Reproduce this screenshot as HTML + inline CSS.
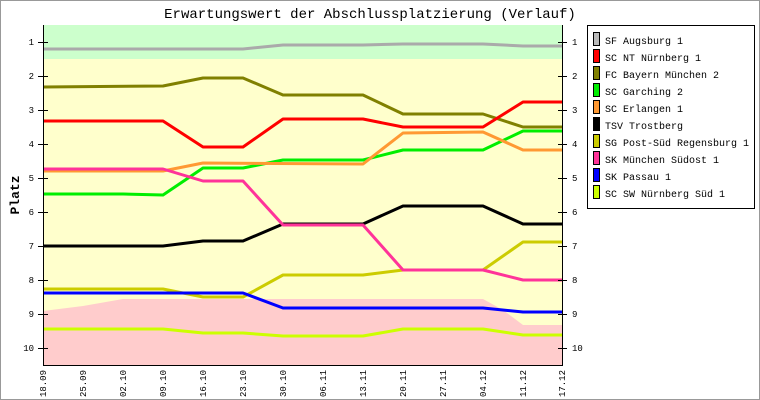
<!DOCTYPE html>
<html><head><meta charset="utf-8"><style>
html,body{margin:0;padding:0;background:#fff}
svg{display:block}
text{font-family:"Liberation Mono",monospace;fill:#000}
</style></head><body>
<svg width="760" height="400" viewBox="0 0 760 400" xmlns="http://www.w3.org/2000/svg">
<rect x="0.5" y="0.5" width="759" height="399" fill="#fff" stroke="#999" stroke-width="1"/>
<text x="370" y="18" font-size="14" text-anchor="middle">Erwartungswert der Abschlussplatzierung (Verlauf)</text>
<!-- backgrounds -->
<rect x="43" y="25" width="519" height="34" fill="#ccffcc"/>
<rect x="43" y="59" width="519" height="306" fill="#ffffcc"/>
<polygon points="43,311 83,306 123,299 483,299 503,310 523,325 562,325 562,365 43,365" fill="#ffcccc"/>
<g fill="none" stroke-width="3" stroke-linejoin="round">
<polyline stroke="#aaaaaa" points="43,49 243,49 283,45 363,45 403,44 483,44 523,46 562,46"/>
<polyline stroke="#808000" points="43,87 163,86 203,78 243,78 283,95 363,95 403,114 483,114 523,127 562,127"/>
<polyline stroke="#ff0000" points="43,121 163,121 203,147 243,147 283,119 363,119 403,127 483,127 523,102 562,102"/>
<polyline stroke="#00ee00" points="43,194 123,194 163,195 203,168 243,168 283,160 363,160 403,150 483,150 523,131 562,131"/>
<polyline stroke="#ff9933" points="43,171 163,171 203,163 363,164 403,133 483,132 523,150 562,150"/>
<polyline stroke="#000000" points="43,246 163,246 203,241 243,241 283,224 363,224 403,206 483,206 523,224 562,224"/>
<polyline stroke="#cccc00" points="43,289 163,289 203,297 243,297 283,275 363,275 403,270 483,270 523,242 562,242"/>
<polyline stroke="#ff3399" points="43,169 163,169 203,181 243,181 283,225 363,225 403,270 483,270 523,280 562,280"/>
<polyline stroke="#0000ff" points="43,293 243,293 283,308 483,308 523,312 562,312"/>
<polyline stroke="#ccff00" points="43,329 163,329 203,333 243,333 283,336 363,336 403,329 483,329 523,335 562,335"/>
</g>
<!-- axes -->
<g stroke="#000" stroke-width="1">
<line x1="43.5" y1="25" x2="43.5" y2="365"/>
<line x1="562.5" y1="25" x2="562.5" y2="365"/>
<line x1="43" y1="365.5" x2="563" y2="365.5"/>
<line x1="38" y1="42.5" x2="48" y2="42.5"/><line x1="558" y1="42.5" x2="567" y2="42.5"/>
<line x1="38" y1="76.5" x2="48" y2="76.5"/><line x1="558" y1="76.5" x2="567" y2="76.5"/>
<line x1="38" y1="110.5" x2="48" y2="110.5"/><line x1="558" y1="110.5" x2="567" y2="110.5"/>
<line x1="38" y1="144.5" x2="48" y2="144.5"/><line x1="558" y1="144.5" x2="567" y2="144.5"/>
<line x1="38" y1="178.5" x2="48" y2="178.5"/><line x1="558" y1="178.5" x2="567" y2="178.5"/>
<line x1="38" y1="212.5" x2="48" y2="212.5"/><line x1="558" y1="212.5" x2="567" y2="212.5"/>
<line x1="38" y1="246.5" x2="48" y2="246.5"/><line x1="558" y1="246.5" x2="567" y2="246.5"/>
<line x1="38" y1="280.5" x2="48" y2="280.5"/><line x1="558" y1="280.5" x2="567" y2="280.5"/>
<line x1="38" y1="314.5" x2="48" y2="314.5"/><line x1="558" y1="314.5" x2="567" y2="314.5"/>
<line x1="38" y1="348.5" x2="48" y2="348.5"/><line x1="558" y1="348.5" x2="567" y2="348.5"/>
</g>
<g font-size="9" text-anchor="end">
<text x="34" y="45">1</text><text x="34" y="79">2</text><text x="34" y="113">3</text><text x="34" y="147">4</text><text x="34" y="181">5</text><text x="34" y="215">6</text><text x="34" y="249">7</text><text x="34" y="283">8</text><text x="34" y="317">9</text><text x="34" y="351">10</text>
</g>
<g font-size="9">
<text x="572" y="45">1</text><text x="572" y="79">2</text><text x="572" y="113">3</text><text x="572" y="147">4</text><text x="572" y="181">5</text><text x="572" y="215">6</text><text x="572" y="249">7</text><text x="572" y="283">8</text><text x="572" y="317">9</text><text x="572" y="351">10</text>
</g>
<text transform="translate(19,195) rotate(-90)" font-size="13" font-weight="bold" text-anchor="middle">Platz</text>
<g font-size="9" text-anchor="end">
<text transform="translate(46,370) rotate(-90)">18.09</text>
<text transform="translate(86,370) rotate(-90)">25.09</text>
<text transform="translate(126,370) rotate(-90)">02.10</text>
<text transform="translate(166,370) rotate(-90)">09.10</text>
<text transform="translate(206,370) rotate(-90)">16.10</text>
<text transform="translate(246,370) rotate(-90)">23.10</text>
<text transform="translate(286,370) rotate(-90)">30.10</text>
<text transform="translate(326,370) rotate(-90)">06.11</text>
<text transform="translate(366,370) rotate(-90)">13.11</text>
<text transform="translate(406,370) rotate(-90)">20.11</text>
<text transform="translate(446,370) rotate(-90)">27.11</text>
<text transform="translate(486,370) rotate(-90)">04.12</text>
<text transform="translate(526,370) rotate(-90)">11.12</text>
<text transform="translate(565,370) rotate(-90)">17.12</text>
</g>
<!-- legend -->
<rect x="587.5" y="25.5" width="167" height="183" fill="#fff" stroke="#000"/>
<g stroke="#000" stroke-width="1">
<rect x="593.5" y="32.5" width="6" height="13" fill="#bbbbbb"/>
<rect x="593.5" y="49.5" width="6" height="13" fill="#ff0000"/>
<rect x="593.5" y="66.5" width="6" height="13" fill="#808000"/>
<rect x="593.5" y="83.5" width="6" height="13" fill="#00ee00"/>
<rect x="593.5" y="100.5" width="6" height="13" fill="#ff9933"/>
<rect x="593.5" y="117.5" width="6" height="13" fill="#000000"/>
<rect x="593.5" y="134.5" width="6" height="13" fill="#cccc00"/>
<rect x="593.5" y="151.5" width="6" height="13" fill="#ff3399"/>
<rect x="593.5" y="168.5" width="6" height="13" fill="#0000ff"/>
<rect x="593.5" y="185.5" width="6" height="13" fill="#ccff00"/>
</g>
<g font-size="10">
<text x="605" y="44">SF Augsburg 1</text>
<text x="605" y="61">SC NT Nürnberg 1</text>
<text x="605" y="78">FC Bayern München 2</text>
<text x="605" y="95">SC Garching 2</text>
<text x="605" y="112">SC Erlangen 1</text>
<text x="605" y="129">TSV Trostberg</text>
<text x="605" y="146">SG Post-Süd Regensburg 1</text>
<text x="605" y="163">SK München Südost 1</text>
<text x="605" y="180">SK Passau 1</text>
<text x="605" y="197">SC SW Nürnberg Süd 1</text>
</g>
</svg>
</body></html>
